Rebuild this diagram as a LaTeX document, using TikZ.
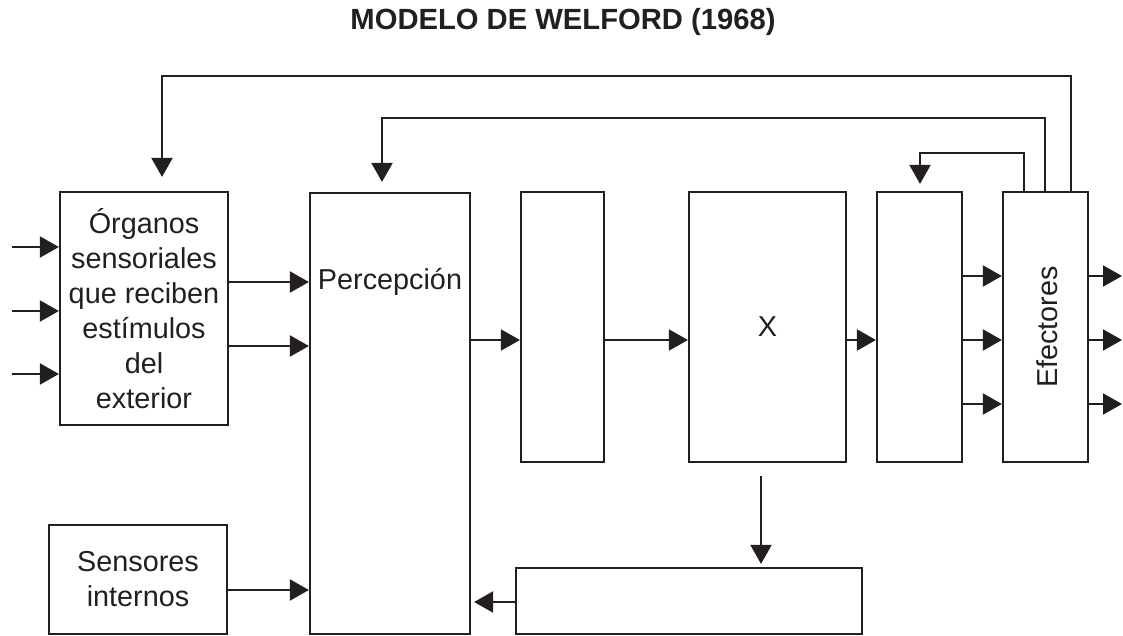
\documentclass[tikz,border=0pt]{standalone}
\usepackage{fontspec}
\setmainfont{Liberation Sans}
\usetikzlibrary{arrows.meta}
\definecolor{tinta}{RGB}{35,31,32}

\begin{document}
\begin{tikzpicture}[x=1pt, y=-1pt, line width=2.2pt, draw=tinta, text=tinta,
  caja/.style={draw=tinta, rectangle, inner sep=2pt, align=center},
  flecha/.style={-{Triangle[length=19pt, width=21pt]}, draw=tinta},
  font=\fontsize{28.8}{35}\selectfont]
\useasboundingbox (0,0) rectangle (1123,636);

% Title
\node[font=\fontsize{29.2}{34}\selectfont\bfseries] (titulo) at (563,22) {MODELO DE WELFORD (1968)};

% Boxes
\node[caja, minimum width=168pt, minimum height=233pt] (org) at (144,308.5) {Órganos\\sensoriales\\que reciben\\estímulos\\del\\exterior};
\node[caja, minimum width=160pt, minimum height=441pt] (perc) at (390,413.5) {};
\node (perctexto) at (390,282) {Percepción};
\node[caja, minimum width=83pt, minimum height=270pt] (b2) at (562.5,327) {};
\node[caja, minimum width=157pt, minimum height=270pt] (x) at (767.5,327) {X};
\node[caja, minimum width=85pt, minimum height=270pt] (b4) at (919.5,327) {};
\node[caja, minimum width=85pt, minimum height=270pt] (efe) at (1045.5,327) {};
\node[rotate=90] (efetexto) at (1047,327) {Efectores};
\node[caja, minimum width=178pt, minimum height=109pt] (sens) at (138,579.5) {Sensores\\internos};
\node[caja, minimum width=346pt, minimum height=66pt] (bajo) at (689,601) {};

% Inputs
\coordinate (in1) at (12,247);
\coordinate (in2) at (12,311);
\coordinate (in3) at (12,374);
\draw[flecha] (in1) -- (org.west |- in1);
\draw[flecha] (in2) -- (org.west |- in2);
\draw[flecha] (in3) -- (org.west |- in3);

% Outputs
\coordinate (out1) at (1122,276);
\coordinate (out2) at (1122,340);
\coordinate (out3) at (1122,404);
\draw[flecha] (efe.east |- out1) -- (out1);
\draw[flecha] (efe.east |- out2) -- (out2);
\draw[flecha] (efe.east |- out3) -- (out3);

% Arrows
\draw[flecha] (org.east |- 0,282) -- (perc.west |- 0,282);
\draw[flecha] (org.east |- 0,346) -- (perc.west |- 0,346);
\draw[flecha] (sens.east |- 0,590) -- (perc.west |- 0,590);
\draw[flecha] (perc.east |- 0,340) -- (b2.west |- 0,340);
\draw[flecha] (b2.east |- 0,340) -- (x.west |- 0,340);
\draw[flecha] (x.east |- 0,340) -- (b4.west |- 0,340);
\draw[flecha] (b4.east |- 0,276) -- (efe.west |- 0,276);
\draw[flecha] (b4.east |- 0,340) -- (efe.west |- 0,340);
\draw[flecha] (b4.east |- 0,404) -- (efe.west |- 0,404);
\draw[flecha, shorten <=13pt, shorten >=3pt] (x.south -| 761,0) -- (bajo.north -| 761,0);
\draw[flecha, shorten >=3pt] (bajo.west |- 0,602) -- (perc.east |- 0,602);

% Feedback loops
\draw[flecha, shorten >=14pt] (efe.north -| 1071,0) |- (162,76) -- (org.north -| 162,0);
\draw[flecha, shorten >=10pt] (efe.north -| 1045,0) |- (382,118) -- (perc.north -| 382,0);
\draw[flecha, shorten >=7pt] (efe.north -| 1024,0) |- (920,153) -- (b4.north -| 920,0);
\end{tikzpicture}
\end{document}
